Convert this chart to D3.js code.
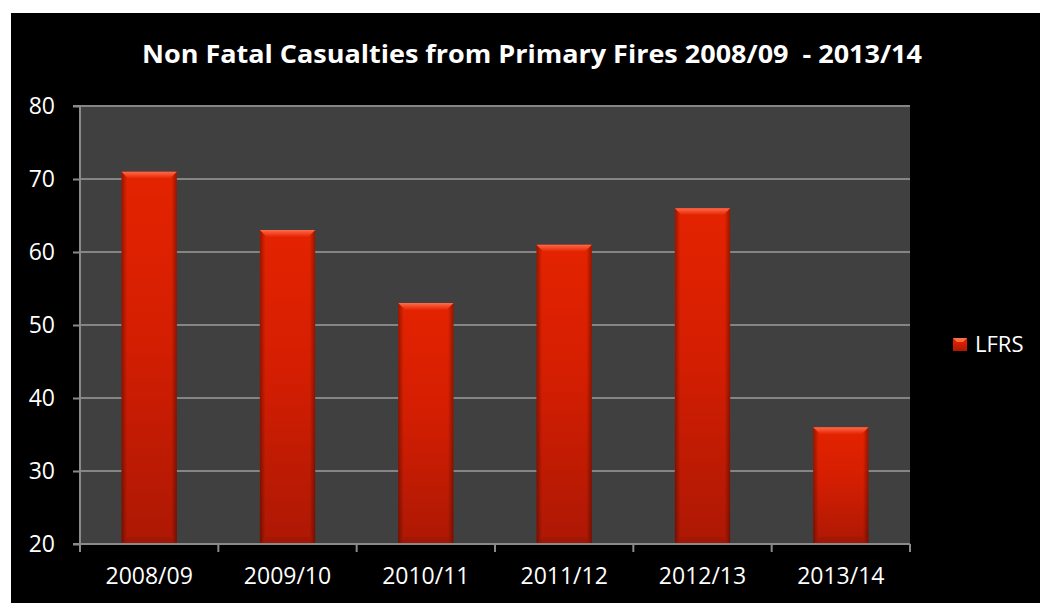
<!DOCTYPE html>
<html><head><meta charset="utf-8">
<script src="https://cdn.jsdelivr.net/npm/d3@7"></script>
<style>
html,body{margin:0;padding:0;background:#fff;}
svg{display:block;}
</style></head>
<body>
<svg id="chart" width="1040" height="603"></svg>
<script>
const categories = ["2008/09","2009/10","2010/11","2011/12","2012/13","2013/14"];
const lfrsValues = [71, 63, 53, 61, 66, 36];
const yTicks = [20, 30, 40, 50, 60, 70, 80];
const seriesName = "LFRS";
const titleText = "Non Fatal Casualties from Primary Fires 2008/09  - 2013/14";

const svg = d3.select("#chart");
const W = 1040, H = 603;
const margin = {left: 80, top: 106, right: 130, bottom: 59};
const pw = W - margin.left - margin.right; // 830
const ph = H - margin.top - margin.bottom; // 438

svg.append("rect").attr("x",0).attr("y",0).attr("width",W).attr("height",H).attr("fill","#fff");
svg.append("rect").attr("x",11).attr("y",13).attr("width",W-11).attr("height",H-13).attr("fill","#000");

const defs = svg.append("defs");
const gV = defs.append("linearGradient").attr("id","barV").attr("x1",0).attr("y1",0).attr("x2",0).attr("y2",1);
gV.append("stop").attr("offset","0%").attr("stop-color","#e42300");
gV.append("stop").attr("offset","45%").attr("stop-color","#d41e02");
gV.append("stop").attr("offset","100%").attr("stop-color","#ad1804");
const gH = defs.append("linearGradient").attr("id","barH").attr("x1",0).attr("y1",0).attr("x2",1).attr("y2",0);
gH.append("stop").attr("offset","0%").attr("stop-color","#000").attr("stop-opacity",0.35);
gH.append("stop").attr("offset","10%").attr("stop-color","#000").attr("stop-opacity",0);
gH.append("stop").attr("offset","90%").attr("stop-color","#000").attr("stop-opacity",0);
gH.append("stop").attr("offset","100%").attr("stop-color","#000").attr("stop-opacity",0.35);
const gTop = defs.append("linearGradient").attr("id","barTop").attr("x1",0).attr("y1",0).attr("x2",0).attr("y2",1);
gTop.append("stop").attr("offset","0%").attr("stop-color","#ff6a4a");
gTop.append("stop").attr("offset","100%").attr("stop-color","#e42300");

const g = svg.append("g").attr("transform",`translate(${margin.left},${margin.top})`);

const x = d3.scaleBand().domain(categories).range([0,pw]).paddingInner(0.6).paddingOuter(0.3);
const y = d3.scaleLinear().domain([20,80]).range([ph,0]);

g.append("rect").attr("width",pw).attr("height",ph).attr("fill","#404040");

g.selectAll(".grid").data(yTicks.slice(1)).join("line")
  .attr("x1",0).attr("x2",pw)
  .attr("y1",d=>y(d)).attr("y2",d=>y(d))
  .attr("stroke","#858585").attr("stroke-width",2);

const bars = g.selectAll(".bar").data(lfrsValues).join("g");
bars.append("rect")
  .attr("x",(d,i)=>x(categories[i])).attr("y",d=>y(d))
  .attr("width",x.bandwidth()).attr("height",d=>ph-y(d))
  .attr("fill","url(#barV)");
bars.append("rect")
  .attr("x",(d,i)=>x(categories[i])).attr("y",d=>y(d))
  .attr("width",x.bandwidth()).attr("height",d=>ph-y(d))
  .attr("fill","url(#barH)");
bars.append("path")
  .attr("d",(d,i)=>{
    const x0=x(categories[i]), x1=x0+x.bandwidth(), t=y(d), b=7;
    return `M${x0},${t}L${x1},${t}L${x1-b},${t+b}L${x0+b},${t+b}Z`;
  })
  .attr("fill","url(#barTop)");
bars.append("path")
  .attr("d",(d,i)=>{
    const x0=x(categories[i]), x1=x0+x.bandwidth(), bt=ph, b=7;
    return `M${x0},${bt}L${x1},${bt}L${x1-b},${bt-b}L${x0+b},${bt-b}Z`;
  })
  .attr("fill","#9a1606").attr("opacity",0.6);

const yAxis = d3.axisLeft(y).tickValues(yTicks).tickSize(7).tickPadding(18).tickFormat(d3.format("d"));
const ya = g.append("g").call(yAxis);
ya.select(".domain").attr("stroke","#8a8a8a").attr("stroke-width",2).attr("d",`M-7,${ph}H0V0H-7`);
ya.selectAll(".tick line").attr("stroke","#8a8a8a").attr("stroke-width",2);
ya.selectAll("text").attr("fill","#fff").style("font-family","'Open Sans', sans-serif").style("font-size","23px");

const xb = d3.scaleLinear().domain([0,categories.length]).range([0,pw]);
const xAxis = d3.axisBottom(x).tickSize(0).tickPadding(24);
const xa = g.append("g").attr("transform",`translate(0,${ph})`).call(xAxis);
xa.select(".domain").remove();
xa.selectAll("text").attr("fill","#fff").style("font-family","'Open Sans', sans-serif").style("font-size","23px");
g.append("line").attr("x1",0).attr("x2",pw).attr("y1",ph).attr("y2",ph).attr("stroke","#8a8a8a").attr("stroke-width",2);
g.selectAll(".xtick").data(d3.range(categories.length+1)).join("line")
  .attr("x1",d=>xb(d)).attr("x2",d=>xb(d)).attr("y1",ph).attr("y2",ph+8)
  .attr("stroke","#8a8a8a").attr("stroke-width",2);

svg.append("text").attr("x",532).attr("y",63).attr("text-anchor","middle")
  .attr("xml:space","preserve").style("white-space","pre")
  .attr("fill","#fff").style("font-family","'Open Sans', sans-serif").style("font-weight","bold").style("font-size","25px")
  .attr("textLength",780).attr("lengthAdjust","spacingAndGlyphs")
  .text(titleText);

const lg = svg.append("g").attr("transform","translate(953,338)");
lg.append("rect").attr("width",14).attr("height",13).attr("fill","url(#barV)");
lg.append("path").attr("d","M0,0L14,0L10,4L4,4Z").attr("fill","#ff6a4a");
lg.append("text").attr("x",22).attr("y",14).attr("fill","#fff")
  .style("font-family","'Open Sans', sans-serif").style("font-size","22px").text(seriesName);
</script>
</body></html>
